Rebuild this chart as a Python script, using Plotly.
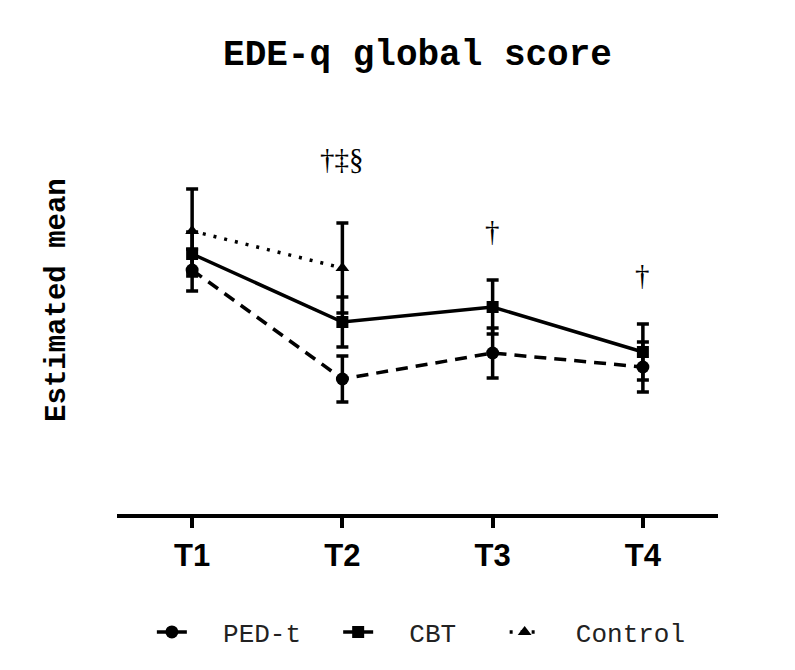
import plotly.graph_objects as go

# Time points and estimated means (with standard errors) per group
timepoints = ["T1", "T2", "T3", "T4"]

ped_mean = [2.44, 1.35, 1.61, 1.47]
ped_err = [0.21, 0.23, 0.25, 0.25]

cbt_mean = [2.60, 1.92, 2.07, 1.62]
cbt_err = [0.22, 0.25, 0.27, 0.28]

control_mean = [2.83, 2.46, None, None]
control_err = [0.42, 0.45, None, None]

# Significance markers shown above time points
sig_labels = ["†‡§", "†", "†"]
sig_x = ["T2", "T3", "T4"]
sig_y = [3.55, 2.83, 2.39]

BLACK = "#000000"
MONO = "Liberation Mono, Courier New, monospace"
LEGEND_FONT = dict(family=MONO, size=26, color="#222222")
GAP = "\u00a0\u00a0"  # extra room between legend symbol and its text


def err_bar(values):
    return dict(type="data", array=values, visible=True, color=BLACK,
                thickness=3.5, width=6)


fig = go.Figure()

fig.add_trace(go.Scatter(
    x=timepoints, y=ped_mean, name=GAP + "PED-t", mode="lines+markers",
    line=dict(color=BLACK, width=3.5, dash="12px,8px"),
    marker=dict(symbol="circle", size=13, color=BLACK),
    error_y=err_bar(ped_err), legend="legend",
))
fig.add_trace(go.Scatter(
    x=timepoints, y=cbt_mean, name=GAP + "CBT", mode="lines+markers",
    line=dict(color=BLACK, width=3.5),
    marker=dict(symbol="square", size=12, color=BLACK),
    error_y=err_bar(cbt_err), legend="legend2",
))
fig.add_trace(go.Scatter(
    x=timepoints, y=control_mean, name=GAP + "Control", mode="lines+markers",
    line=dict(color=BLACK, width=3.5, dash="3px,8px"),
    marker=dict(symbol="triangle-up", size=12, color=BLACK),
    error_y=err_bar(control_err), legend="legend3",
))

for label, xv, yv in zip(sig_labels, sig_x, sig_y):
    fig.add_annotation(
        x=xv, y=yv, text=label, showarrow=False,
        font=dict(family="Liberation Serif, Times New Roman, serif",
                  size=29, color=BLACK),
        xanchor="center", yanchor="middle",
    )

# Vertical axis caption
fig.add_annotation(
    text="Estimated mean", xref="paper", yref="paper",
    x=-0.10, y=0.535, textangle=-90, showarrow=False,
    font=dict(family=MONO, size=29, color=BLACK, weight="bold"),
    xanchor="center", yanchor="middle",
)

legend_common = dict(
    orientation="h", yanchor="middle", xanchor="left", y=-0.295,
    font=LEGEND_FONT, bgcolor="rgba(0,0,0,0)",
)

fig.update_layout(
    width=795, height=670,
    margin=dict(l=117, r=77, t=114, b=156),
    paper_bgcolor="white", plot_bgcolor="white",
    title=dict(
        text="EDE-q global score", x=0.5, xref="paper",
        y=1 - 52 / 670, yref="container", xanchor="center", yanchor="middle",
        font=dict(family=MONO, size=36, color=BLACK, weight="bold"),
    ),
    legend=dict(x=0.058, **legend_common),
    legend2=dict(x=0.368, **legend_common),
    legend3=dict(x=0.645, **legend_common),
    showlegend=True,
)

fig.update_xaxes(
    type="category", range=[-0.5, 3.5],
    showline=True, linecolor=BLACK, linewidth=3.5,
    ticks="outside", ticklen=10, tickwidth=3.5, tickcolor=BLACK,
    showgrid=False, zeroline=False, ticklabelstandoff=1,
    tickfont=dict(family="Liberation Sans Narrow, Arial Narrow, Liberation Sans, Arial",
                  size=31, color=BLACK, weight="bold"),
)
fig.update_yaxes(range=[0, 4], visible=False, showgrid=False, zeroline=False)

fig.write_html("out.html")
